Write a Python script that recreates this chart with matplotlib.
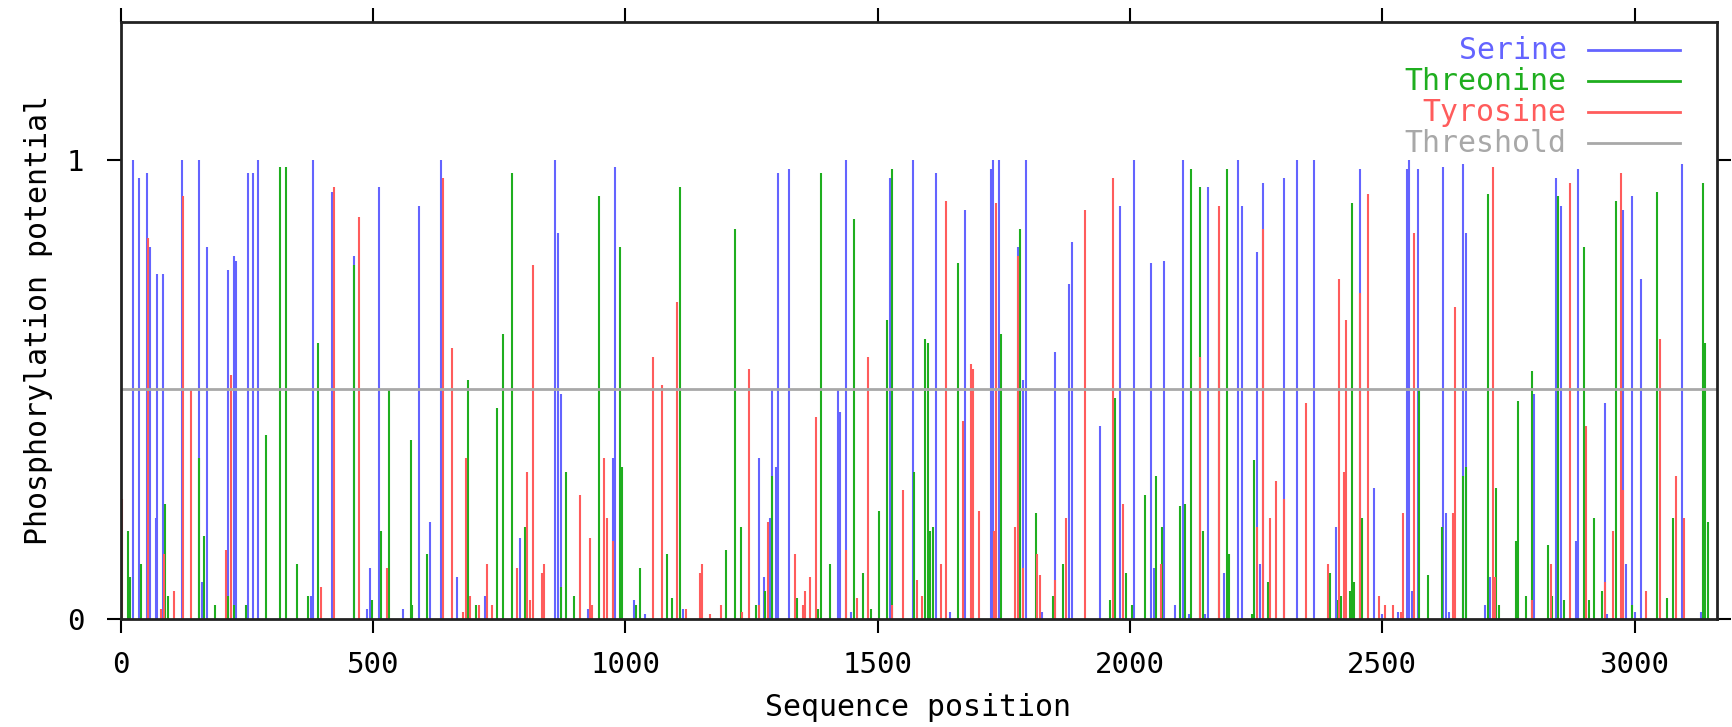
import matplotlib
matplotlib.use('Agg')
import matplotlib.pyplot as plt

plt.rcParams['font.family'] = ['DejaVu Sans Mono']

# Serine sites: position, score
ser_pos = [25, 37, 53, 58, 70, 73, 85, 122, 155, 161, 171, 213, 224, 229, 252, 262, 273,
           377, 381, 419, 462, 489, 495, 512, 559, 591, 613, 635, 667, 722, 791, 860, 866,
           872, 926, 975, 980, 1017, 1039, 1115, 1265, 1276, 1287, 1291, 1298, 1303, 1324,
           1421, 1426, 1438, 1448, 1524, 1570, 1615, 1643, 1674, 1724, 1728, 1740, 1778,
           1789, 1794, 1826, 1852, 1880, 1885, 1940, 1981, 2009, 2041, 2047, 2068, 2090,
           2106, 2117, 2149, 2155, 2187, 2215, 2223, 2251, 2258, 2263, 2306, 2332, 2364,
           2408, 2456, 2483, 2499, 2532, 2549, 2553, 2559, 2570, 2621, 2626, 2633, 2661,
           2666, 2703, 2714, 2801, 2844, 2854, 2884, 2888, 2941, 2946, 2978, 2984, 2996,
           3000, 3012, 3095, 3131]
ser_val = [1.0, 0.96, 0.97, 0.81, 0.22, 0.75, 0.75, 1.0, 1.0, 0.08, 0.81, 0.76, 0.79, 0.78, 0.97, 0.97, 1.0,
           0.05, 1.0, 0.93, 0.79, 0.02, 0.11, 0.94, 0.02, 0.90, 0.21, 1.0, 0.09, 0.05, 0.175, 1.0, 0.84,
           0.49, 0.02, 0.35, 0.985, 0.04, 0.01, 0.02, 0.35, 0.09, 0.22, 0.50, 0.33, 0.97, 0.98,
           0.50, 0.45, 1.0, 0.015, 0.96, 1.0, 0.97, 0.015, 0.89, 0.98, 1.0, 1.0, 0.81,
           0.52, 1.0, 0.015, 0.58, 0.73, 0.82, 0.42, 0.90, 1.0, 0.775, 0.11, 0.78, 0.03,
           1.0, 0.01, 0.01, 0.94, 0.10, 1.0, 0.90, 0.80, 0.12, 0.95, 0.96, 1.0, 1.0,
           0.20, 0.98, 0.285, 0.01, 0.015, 0.98, 1.0, 0.06, 0.98, 0.985, 0.23, 0.015, 0.99,
           0.84, 0.03, 0.09, 0.49, 0.96, 0.90, 0.17, 0.98, 0.47, 0.01, 0.89, 0.12, 0.92,
           0.015, 0.74, 0.99, 0.015]

# Threonine sites
thr_pos = [14, 18, 41, 89, 95, 155, 166, 187, 213, 225, 248, 289, 316, 328, 349, 372, 392,
           462, 499, 516, 532, 575, 578, 608, 689, 705, 746, 758, 775, 802, 872, 882, 899,
           948, 989, 994, 1022, 1029, 1082, 1093, 1108, 1200, 1217, 1229, 1260, 1278, 1291,
           1341, 1383, 1388, 1405, 1454, 1471, 1487, 1503, 1519, 1529, 1572, 1594, 1600,
           1603, 1610, 1659, 1745, 1783, 1814, 1847, 1868, 1961, 1971, 1992, 2004, 2030,
           2052, 2064, 2099, 2110, 2122, 2139, 2144, 2176, 2192, 2197, 2243, 2247, 2273,
           2396, 2413, 2418, 2436, 2440, 2444, 2461, 2573, 2590, 2618, 2661, 2666, 2709,
           2725, 2732, 2765, 2769, 2785, 2796, 2829, 2837, 2849, 2860, 2899, 2909, 2920,
           2936, 2963, 2996, 3044, 3065, 3076, 3136, 3140, 3146]
thr_val = [0.19, 0.09, 0.12, 0.25, 0.05, 0.35, 0.18, 0.03, 0.05, 0.03, 0.03, 0.40, 0.985, 0.985, 0.12, 0.05, 0.60,
           0.77, 0.04, 0.19, 0.50, 0.39, 0.03, 0.14, 0.52, 0.03, 0.46, 0.62, 0.97, 0.20, 0.07, 0.32, 0.05,
           0.92, 0.81, 0.33, 0.03, 0.11, 0.14, 0.045, 0.94, 0.15, 0.85, 0.20, 0.03, 0.06, 0.31,
           0.045, 0.02, 0.97, 0.12, 0.87, 0.10, 0.02, 0.235, 0.65, 0.98, 0.32, 0.61, 0.60,
           0.19, 0.20, 0.775, 0.62, 0.85, 0.23, 0.05, 0.12, 0.04, 0.48, 0.10, 0.03, 0.27,
           0.31, 0.20, 0.245, 0.25, 0.98, 0.94, 0.19, 0.76, 0.98, 0.14, 0.01, 0.345, 0.08,
           0.10, 0.04, 0.05, 0.06, 0.905, 0.08, 0.22, 0.50, 0.095, 0.20, 0.31, 0.33, 0.925,
           0.285, 0.03, 0.17, 0.475, 0.05, 0.54, 0.16, 0.05, 0.92, 0.04, 0.81, 0.04, 0.22,
           0.06, 0.91, 0.03, 0.93, 0.045, 0.22, 0.95, 0.60, 0.21]

# Tyrosine sites
tyr_pos = [2, 54, 81, 87, 105, 124, 140, 208, 219, 397, 423, 472, 528, 639, 656, 679, 684,
           693, 711, 726, 737, 786, 806, 811, 818, 835, 839, 910, 931, 935, 958, 963, 975,
           1055, 1072, 1103, 1121, 1148, 1152, 1169, 1189, 1232, 1245, 1265, 1283, 1336,
           1352, 1357, 1367, 1379, 1438, 1459, 1481, 1529, 1551, 1578, 1588, 1626, 1635,
           1670, 1685, 1690, 1702, 1730, 1734, 1773, 1778, 1788, 1816, 1821, 1852, 1874,
           1911, 1966, 1987, 2062, 2139, 2177, 2252, 2263, 2278, 2289, 2306, 2349, 2392,
           2414, 2425, 2429, 2456, 2472, 2494, 2505, 2522, 2537, 2542, 2563, 2641, 2645,
           2719, 2724, 2796, 2834, 2872, 2903, 2941, 2957, 2974, 2978, 3023, 3050, 3082, 3098]
tyr_val = [0.26, 0.83, 0.02, 0.14, 0.06, 0.92, 0.50, 0.15, 0.53, 0.07, 0.94, 0.875, 0.11, 0.96, 0.59, 0.015, 0.35,
           0.05, 0.03, 0.12, 0.03, 0.11, 0.32, 0.04, 0.77, 0.10, 0.12, 0.27, 0.175, 0.03, 0.35, 0.22, 0.17,
           0.57, 0.51, 0.69, 0.02, 0.10, 0.12, 0.01, 0.03, 0.015, 0.545, 0.03, 0.21, 0.14,
           0.03, 0.06, 0.09, 0.44, 0.15, 0.045, 0.57, 0.03, 0.28, 0.085, 0.05, 0.12, 0.91,
           0.43, 0.555, 0.545, 0.235, 0.19, 0.905, 0.20, 0.79, 0.11, 0.14, 0.095, 0.085, 0.22,
           0.89, 0.96, 0.25, 0.12, 0.57, 0.90, 0.20, 0.85, 0.22, 0.30, 0.26, 0.47, 0.12,
           0.74, 0.32, 0.65, 0.71, 0.925, 0.05, 0.03, 0.03, 0.015, 0.23, 0.84, 0.23, 0.68,
           0.985, 0.09, 0.04, 0.12, 0.95, 0.42, 0.08, 0.19, 0.97, 0.28, 0.06, 0.61, 0.31, 0.22]

threshold = 0.5
seq_len = 3163
xticks = [0, 500, 1000, 1500, 2000, 2500, 3000]
yticks = [0, 1]

c_ser = '#6464ff'
c_thr = '#1fae1f'
c_tyr = '#ff5c5c'
c_thr_line = '#a8a8a8'

fig = plt.figure(figsize=(17.32, 7.27), dpi=100)
ax = fig.add_axes([0.0696, 0.149, 0.9216, 0.8207])

ax.vlines(ser_pos, 0, ser_val, color=c_ser, lw=1.5)
ax.vlines(thr_pos, 0, thr_val, color=c_thr, lw=1.5)
ax.vlines(tyr_pos, 0, tyr_val, color=c_tyr, lw=1.5)
ax.axhline(threshold, color=c_thr_line, lw=2)

ax.set_xlim(0, seq_len)
ax.set_ylim(0, 1.3)
ax.set_xticks(xticks)
ax.set_yticks(yticks)
ax.tick_params(direction='out', length=10, width=1.5, top=True, right=True,
               labeltop=False, labelright=False, labelsize=21)
ax.tick_params(axis='x', pad=13)
ax.tick_params(axis='y', pad=16)
for sp in ax.spines.values():
    sp.set_linewidth(2)
    sp.set_color('#222222')

fig.text(0.53, 0.027, 'Sequence position', ha='center', va='center', fontsize=21.5)
fig.text(0.0225, 0.56, 'Phosphorylation potential', ha='center', va='center',
         rotation=90, fontsize=21.5)

# legend drawn by hand, text to the left of the sample line
legend = [('Serine', c_ser), ('Threonine', c_thr), ('Tyrosine', c_tyr), ('Threshold', c_thr_line)]
for i, (name, col) in enumerate(legend):
    yy = 0.953 - i * 0.052
    ax.text(0.906, yy, name, color=col, ha='right', va='center', fontsize=21.5,
            transform=ax.transAxes)
    ax.plot([0.9196, 0.977], [yy, yy], color=col, lw=2, transform=ax.transAxes)

fig.savefig('out.png', dpi=100)
